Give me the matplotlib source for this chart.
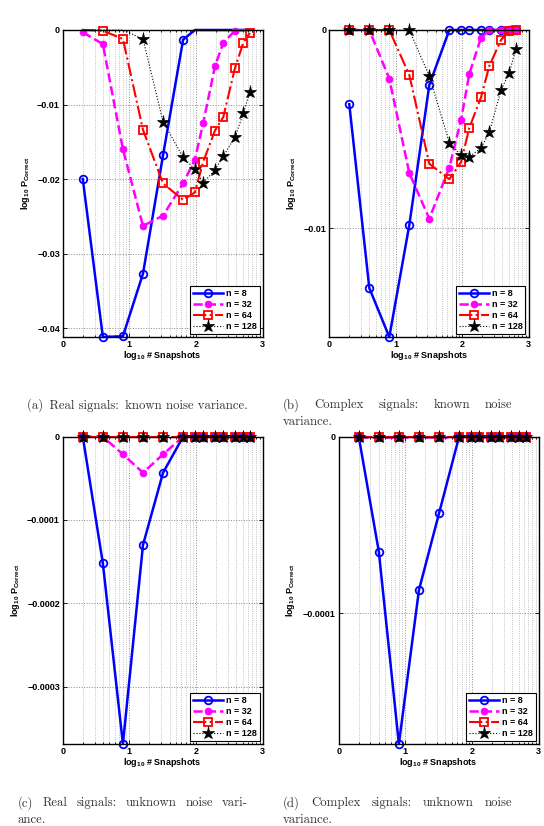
import numpy as np
import matplotlib
matplotlib.use('Agg')
import matplotlib.pyplot as plt
from matplotlib.ticker import FixedLocator, FuncFormatter

plt.rcParams['font.family'] = ['Liberation Sans', 'DejaVu Sans']
plt.rcParams['font.weight'] = 'bold'
plt.rcParams['mathtext.fontset'] = 'custom'
plt.rcParams['mathtext.bf'] = 'Liberation Sans:bold'
plt.rcParams['mathtext.rm'] = 'Liberation Sans:bold'
plt.rcParams['mathtext.default'] = 'bf'

# number of snapshots used at each point
snapshots = [2, 4, 8, 16, 32, 64, 96, 128, 192, 256, 384, 512, 640]
labels = ['n = 8', 'n = 32', 'n = 64', 'n = 128']

# (a) real signals, known noise variance
a_n8 = [-0.0200, -0.0412, -0.0411, -0.0327, -0.0168, -0.0013, 0, 0, 0, 0, 0, 0, 0]
a_n32 = [-0.0003, -0.0019, -0.0160, -0.0263, -0.0249, -0.0206, -0.0174, -0.0125,
         -0.0049, -0.0017, -0.0001, 0, 0]
a_n64 = [0, -0.0001, -0.0012, -0.0134, -0.0206, -0.0228, -0.0218, -0.0177, -0.0135,
         -0.0117, -0.0051, -0.0017, -0.0004]
a_n128 = [0, 0, 0, -0.0012, -0.0123, -0.0171, -0.0187, -0.0205, -0.0188, -0.0169,
          -0.0144, -0.0112, -0.0083]

# (b) complex signals, known noise variance
b_n8 = [-0.00374, -0.0130, -0.01547, -0.00983, -0.00277, 0, 0, 0, 0, 0, 0, 0, 0]
b_n32 = [0, 0, -0.00245, -0.00721, -0.00951, -0.00693, -0.00453, -0.00221, -0.00039,
         0, 0, 0, 0]
b_n64 = [0, 0, 0, -0.00227, -0.00674, -0.00752, -0.00666, -0.00493, -0.00339,
         -0.00181, -0.0005, -0.00005, 0]
b_n128 = [0, 0, 0, 0, -0.00232, -0.00567, -0.00631, -0.00638, -0.00596, -0.00515,
          -0.00302, -0.00215, -0.00096]

# (c) real signals, unknown noise variance
c_n8 = [0, -0.000152, -0.000369, -0.000130, -0.0000432, 0, 0, 0, 0, 0, 0, 0, 0]
c_n32 = [0, 0, -0.0000212, -0.0000432, -0.0000212, 0, 0, 0, 0, 0, 0, 0, 0]
c_n64 = [0] * 13
c_n128 = [0] * 13

# (d) complex signals, unknown noise variance
d_n8 = [0, -0.0000651, -0.000174, -0.0000868, -0.0000434, 0, 0, 0, 0, 0, 0, 0, 0]
d_n32 = [0] * 13
d_n64 = [0] * 13
d_n128 = [0] * 13

x = np.log10(snapshots)

styles = [
    dict(color='#0000ff', ls='-', lw=1.8, marker='o', ms=5.5, mfc='none', mew=1.3),
    dict(color='#ff00ff', ls='--', lw=1.8, marker='o', ms=5, mfc='#ff00ff', mew=0.5),
    dict(color='#ff0000', ls='-.', lw=1.5, marker='s', ms=5.5, mfc='none', mew=1.3),
    dict(color='#000000', ls=':', lw=0.8, marker='*', ms=9.5, mfc='#000000', mew=0.5),
]


def fmt(v, pos):
    if v == 0:
        return '0'
    return f'{v:g}'.replace('-', '\u2212')


def make_panel(fig, rect, series, ylim, yticks, hide_zero=False):
    ax = fig.add_axes(rect)
    for vals, st, lab in zip(series, styles, labels):
        vals = np.array(vals)
        if hide_zero:
            keep = list(np.where(vals != 0)[0])
            ax.plot(x, vals, markevery=keep, label=lab, clip_on=False, **st)
        else:
            ax.plot(x, vals, label=lab, clip_on=False, **st)
    ax.set_xlim(0, 3)
    ax.set_ylim(*ylim)
    ax.xaxis.set_major_locator(FixedLocator([0, 1, 2, 3]))
    minor = [d + np.log10(k) for d in range(3) for k in range(2, 10)]
    ax.xaxis.set_minor_locator(FixedLocator(minor))
    ax.yaxis.set_major_locator(FixedLocator(yticks))
    ax.yaxis.set_major_formatter(FuncFormatter(fmt))
    ax.grid(True, which='major', ls=':', color='#888888', lw=0.7)
    ax.grid(True, which='minor', axis='x', ls=':', color='#b0b0b0', lw=0.6)
    ax.tick_params(which='both', direction='in', top=True, right=True,
                   labelsize=6.5, width=0.6)
    ax.tick_params(which='major', length=3, pad=2)
    ax.tick_params(which='minor', length=1.5)
    for lbl in ax.get_xticklabels() + ax.get_yticklabels():
        lbl.set_fontweight('bold')
    for sp in ax.spines.values():
        sp.set_linewidth(1.0)
    ax.set_xlabel('log$_{10}$ # Snapshots', fontsize=6.5, fontweight='bold', labelpad=0)
    ax.set_ylabel('log$_{10}$ P$_{\\mathrm{Correct}}$', fontsize=6.5, fontweight='bold')
    leg = ax.legend(loc='lower right', fontsize=6.5, frameon=True, fancybox=False,
                    edgecolor='black', framealpha=1, handlelength=3.4,
                    borderaxespad=0.35, borderpad=0.3, labelspacing=0.22,
                    handletextpad=0.3)
    leg.get_frame().set_linewidth(0.8)
    for t in leg.get_texts():
        t.set_fontweight('bold')
    return ax


fig = plt.figure(figsize=(5.44, 8.26), dpi=100)

make_panel(fig, [0.1153, 0.592, 0.3676, 0.3717], [a_n8, a_n32, a_n64, a_n128],
           (-0.0412, 0), [-0.04, -0.03, -0.02, -0.01, 0], hide_zero=True)
make_panel(fig, [0.6053, 0.592, 0.3665, 0.3717], [b_n8, b_n32, b_n64, b_n128],
           (-0.01547, 0), [-0.01, 0])
make_panel(fig, [0.1153, 0.0993, 0.3676, 0.372], [c_n8, c_n32, c_n64, c_n128],
           (-0.000369, 0), [-0.0003, -0.0002, -0.0001, 0])
make_panel(fig, [0.6226, 0.0993, 0.3676, 0.372], [d_n8, d_n32, d_n64, d_n128],
           (-0.000174, 0), [-0.0001, 0])

# captions, justified like the LaTeX subfigure text
renderer = fig.canvas.get_renderer()
cap_kw = dict(family=['cmr10', 'DejaVu Serif'], fontsize=9.2, color='#333333',
              fontweight='normal', va='center', ha='left')


def caption_line(x0, x1, y, words, justify):
    texts = [fig.text(0, y, w, **cap_kw) for w in words]
    widths = [t.get_window_extent(renderer).width / fig.bbox.width for t in texts]
    if justify and len(words) > 1:
        gap = (x1 - x0 - sum(widths)) / (len(words) - 1)
    else:
        gap = 0.0
    pos = x0
    for t, w in zip(texts, widths):
        t.set_x(pos)
        pos += w + gap


caption_line(0.050, 0.456, 0.5097, ['(a)\u2002Real signals:\u2002known noise variance.'], False)
caption_line(0.520, 0.941, 0.5097, ['(b)', 'Complex', 'signals:', 'known', 'noise'], True)
caption_line(0.520, 0.941, 0.4891, ['variance.'], False)
caption_line(0.033, 0.456, 0.0278, ['(c)', 'Real', 'signals:', 'unknown', 'noise', 'vari-'], True)
caption_line(0.033, 0.456, 0.0073, ['ance.'], False)
caption_line(0.520, 0.941, 0.0278, ['(d)', 'Complex', 'signals:', 'unknown', 'noise'], True)
caption_line(0.520, 0.941, 0.0073, ['variance.'], False)

fig.savefig('out.png', dpi=100)
